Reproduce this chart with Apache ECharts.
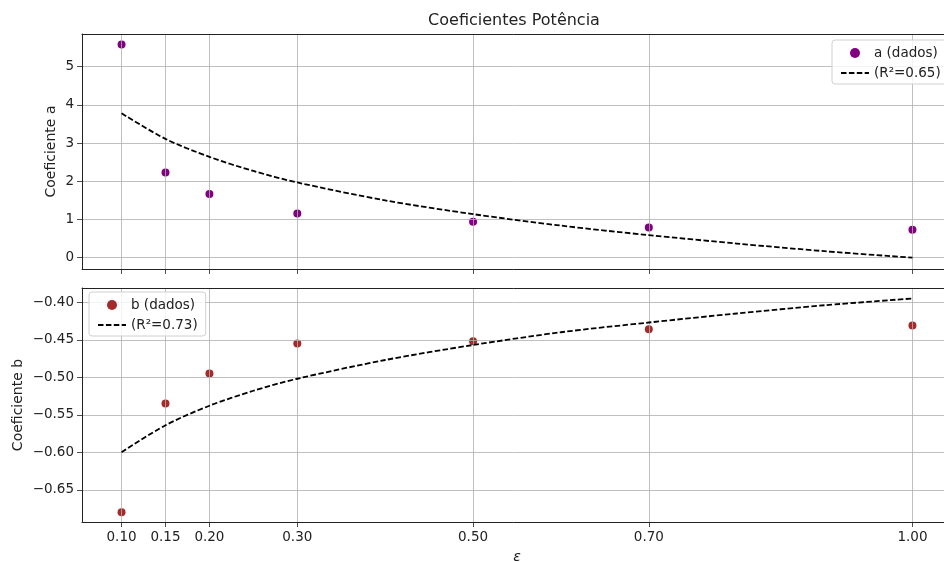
<!DOCTYPE html>
<html>
<head>
<meta charset="utf-8">
<script src="https://cdn.jsdelivr.net/npm/echarts@6/dist/echarts.min.js"></script>
<style>
  html, body { margin: 0; padding: 0; background: #fff; overflow: hidden; }
  #chart { width: 944px; height: 562px; }
</style>
</head>
<body>
<div id="chart"></div>
<script>
// ε values where the coefficients were measured
const eps = [0.10, 0.15, 0.20, 0.30, 0.50, 0.70, 1.00];
// measured coefficients
const coefA = [5.58, 2.23, 1.67, 1.16, 0.94, 0.79, 0.73];
const coefB = [-0.680, -0.535, -0.495, -0.455, -0.452, -0.436, -0.431];
// fitted curves, sampled along ε
const fitEps = [0.10, 0.15, 0.20, 0.25, 0.30, 0.40, 0.50, 0.60, 0.70, 0.80, 0.90, 1.00];
const fitA = [3.78, 3.11, 2.64, 2.27, 1.97, 1.50, 1.14, 0.84, 0.59, 0.37, 0.17, 0.00];
const fitB = [-0.600, -0.564, -0.538, -0.518, -0.502, -0.477, -0.457, -0.440, -0.427, -0.415, -0.404, -0.395];
// tick labels
const xTicks = [0.10, 0.15, 0.20, 0.30, 0.50, 0.70, 1.00];
const yTicksA = [0, 1, 2, 3, 4, 5];
const yTicksB = [-0.65, -0.60, -0.55, -0.50, -0.45, -0.40];
const labelA = 'a (dados)', labelFitA = '(R\u00b2=0.65)';
const labelB = 'b (dados)', labelFitB = '(R\u00b2=0.73)';

const FONT = 'DejaVu Sans';
const X_MIN = 0.055, X_MAX = 1.045;
const pairs = (xs, ys) => xs.map((x, i) => [x, ys[i]]);
const minus = v => (v < 0 ? '\u2212' : '') + Math.abs(v).toFixed(2);

const spine = { show: true, onZero: false, lineStyle: { color: '#222', width: 1 } };
const gridStyle = { show: true, lineStyle: { color: '#b0b0b0', width: 0.8 } };
const tickStyle = { show: true, length: 5, lineStyle: { color: '#222', width: 0.8 } };

function xAxis(gridIndex, showLabels, name) {
  return {
    type: 'value', gridIndex, min: X_MIN, max: X_MAX, position: 'bottom', z: 3,
    axisLine: spine,
    axisTick: Object.assign({ customValues: xTicks }, tickStyle),
    splitLine: gridStyle,
    axisLabel: {
      show: showLabels, customValues: xTicks, margin: 8,
      fontFamily: FONT, fontSize: 13.5, color: '#222',
      formatter: v => v.toFixed(2)
    },
    name: name || '', nameLocation: 'middle', nameGap: 28, nameMoveOverlap: false,
    nameTextStyle: { fontFamily: FONT, fontSize: 14, fontStyle: 'italic', color: '#222' }
  };
}
// top spine of each panel
function topSpine(gridIndex) {
  return {
    type: 'value', gridIndex, min: X_MIN, max: X_MAX, position: 'top', z: 3,
    axisLine: spine, axisTick: { show: false }, splitLine: { show: false },
    axisLabel: { show: false }
  };
}
function yAxis(gridIndex, min, max, ticks, fmt, name, gap) {
  return {
    type: 'value', gridIndex, min, max, z: 3,
    axisLine: spine,
    axisTick: Object.assign({ customValues: ticks }, tickStyle),
    splitLine: gridStyle,
    axisLabel: {
      customValues: ticks, margin: 8,
      fontFamily: FONT, fontSize: 13.5, color: '#222', formatter: fmt
    },
    name, nameLocation: 'middle', nameGap: gap, nameRotate: 90, nameMoveOverlap: false,
    nameTextStyle: { fontFamily: FONT, fontSize: 14, color: '#222' }
  };
}
const legendBase = {
  orient: 'vertical', backgroundColor: 'rgba(255,255,255,0.8)',
  borderColor: '#d0d0d0', borderWidth: 1, borderRadius: 3,
  padding: [6, 8, 4, 8], itemGap: 6, itemWidth: 28, itemHeight: 10,
  textStyle: { fontFamily: FONT, fontSize: 13.5, color: '#222' }
};
// fitted-line legend entries show only the dashed stroke
const lineEntry = name => ({ name, itemStyle: { opacity: 0 } });
const gridBase = {
  left: 82, width: 870, show: false, containLabel: false, outerBoundsMode: 'none'
};
const dashed = { color: '#000', width: 1.8, type: [5.5, 2.4] };

const chart = echarts.init(document.getElementById('chart'), null, { renderer: 'canvas' });
chart.setOption({
  animation: false,
  backgroundColor: '#fff',
  title: {
    text: 'Coeficientes Pot\u00eancia', left: 509, top: 8, textAlign: 'center',
    textStyle: { fontFamily: FONT, fontSize: 16, fontWeight: 'normal', color: '#222' }
  },
  legend: [
    Object.assign({ data: [labelA, lineEntry(labelFitA)], left: 832, top: 40 }, legendBase),
    Object.assign({ data: [labelB, lineEntry(labelFitB)], left: 89, top: 292 }, legendBase)
  ],
  grid: [
    Object.assign({ top: 34, height: 235 }, gridBase),
    Object.assign({ top: 288, height: 234 }, gridBase)
  ],
  xAxis: [xAxis(0, false), xAxis(1, true, '\u03b5'), topSpine(0), topSpine(1)],
  yAxis: [
    yAxis(0, -0.296, 5.856, yTicksA, v => String(v), 'Coeficiente a', 24),
    yAxis(1, -0.693, -0.381, yTicksB, minus, 'Coeficiente b', 57)
  ],
  series: [
    { name: labelA, type: 'scatter', xAxisIndex: 0, yAxisIndex: 0, z: 2,
      data: pairs(eps, coefA), symbolSize: 8, itemStyle: { color: '#800080', opacity: 1 } },
    { name: labelFitA, type: 'line', xAxisIndex: 0, yAxisIndex: 0, z: 4,
      data: pairs(fitEps, fitA), smooth: 0.3, showSymbol: false, symbol: 'none',
      itemStyle: { color: '#000' }, lineStyle: dashed },
    { name: labelB, type: 'scatter', xAxisIndex: 1, yAxisIndex: 1, z: 2,
      data: pairs(eps, coefB), symbolSize: 8, itemStyle: { color: '#a52a2a', opacity: 1 } },
    { name: labelFitB, type: 'line', xAxisIndex: 1, yAxisIndex: 1, z: 4,
      data: pairs(fitEps, fitB), smooth: 0.3, showSymbol: false, symbol: 'none',
      itemStyle: { color: '#000' }, lineStyle: dashed }
  ]
});
</script>
</body>
</html>
